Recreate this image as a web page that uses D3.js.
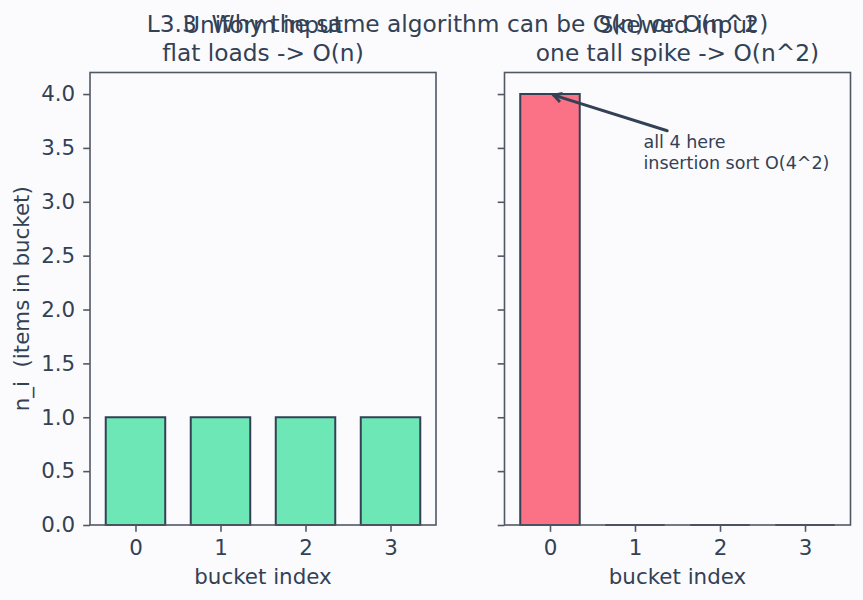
<!DOCTYPE html>
<html>
<head>
<meta charset="utf-8">
<script src="https://cdn.jsdelivr.net/npm/d3@7/dist/d3.min.js"></script>
<style>
  html, body { margin: 0; padding: 0; background: #fbfbfe; }
  svg { display: block; }
  text { font-family: "DejaVu Sans", sans-serif; fill: #334155; white-space: pre; }
</style>
</head>
<body>
<div id="chart"></div>
<script>
// ---- data ----
const buckets = [0, 1, 2, 3];
const uniformCounts = [1, 1, 1, 1];
const skewedCounts = [4, 0, 0, 0];
const yTicks = [0, 0.5, 1, 1.5, 2, 2.5, 3, 3.5, 4];
const suptitle = "L3.3  Why the same algorithm can be O(n) or O(n^2)";
const panelTitles = [["Uniform input", "flat loads -> O(n)"], ["Skewed input", "one tall spike -> O(n^2)"]];
const xLabel = "bucket index";
const yLabel = "n_i  (items in bucket)";
const annoLines = ["all 4 here", "insertion sort O(4^2)"];
const annoPoint = { x: 0, y: 4, tx: 1.1, ty: 3.5 };
const barWidth = 0.7;

const W = 863, H = 600;
const svg = d3.select("#chart").append("svg").attr("width", W).attr("height", H);
svg.append("rect").attr("width", W).attr("height", H).attr("fill", "#fbfbfe");

const axTop = 72.5, axBottom = 525;
const panels = [
  { left: 90, right: 436, data: uniformCounts, color: "#6ee7b7", labels: true },
  { left: 504.5, right: 850.5, data: skewedCounts, color: "#fb7185", labels: false }
];

const y = d3.scaleLinear().domain([0, 4.2]).range([axBottom, axTop]);
const spine = "#505866";
const tickLen = 6.8;
const labelSize = 21.4;

panels.forEach((p, i) => {
  const x = d3.scaleLinear().domain([-0.535, 3.535]).range([p.left, p.right]);
  const g = svg.append("g");
  // bars
  g.selectAll("path.bar").data(buckets).enter().append("path")
    .attr("class", "bar")
    .attr("d", d => {
      const x0 = x(d - barWidth / 2), x1 = x(d + barWidth / 2);
      const y0 = y(0), y1 = y(p.data[d]);
      return `M${x0},${y0}L${x0},${y1}L${x1},${y1}L${x1},${y0}Z`;
    })
    .attr("fill", p.color)
    .attr("stroke", "#334155")
    .attr("stroke-width", 2);

  // x axis
  const xa = g.append("g").attr("transform", `translate(0,${axBottom})`)
    .call(d3.axisBottom(x).tickValues(buckets).tickFormat(d3.format("d")).tickSize(tickLen).tickPadding(8));
  xa.select(".domain").remove();
  xa.selectAll("line").attr("stroke", spine).attr("stroke-width", 1.6);
  xa.selectAll("text").attr("font-size", labelSize).attr("fill", "#334155").attr("dy", "0.71em");

  // y axis
  const ya = g.append("g").attr("transform", `translate(${p.left},0)`)
    .call(d3.axisLeft(y).tickValues(yTicks).tickFormat(p.labels ? d3.format(".1f") : () => "").tickSize(tickLen).tickPadding(8));
  ya.select(".domain").remove();
  ya.selectAll("line").attr("stroke", spine).attr("stroke-width", 1.6);
  ya.selectAll("text").attr("font-size", labelSize).attr("fill", "#334155");

  // frame
  g.append("rect").attr("x", p.left).attr("y", axTop)
    .attr("width", p.right - p.left).attr("height", axBottom - axTop)
    .attr("fill", "none").attr("stroke", spine).attr("stroke-width", 1.6);

  // titles
  const cx = (p.left + p.right) / 2;
  panelTitles[i].forEach((t, k) => {
    g.append("text").attr("x", cx).attr("y", 33 + k * 28)
      .attr("text-anchor", "middle").attr("font-size", 23.3).text(t);
  });

  // x label
  g.append("text").attr("x", cx).attr("y", 584)
    .attr("text-anchor", "middle").attr("font-size", labelSize).text(xLabel);

  if (i === 0) {
    g.append("text")
      .attr("transform", `translate(29,${(axTop + axBottom) / 2}) rotate(-90)`)
      .attr("text-anchor", "middle").attr("font-size", labelSize).text(yLabel);
  }

  if (i === 1) {
    const tx = x(annoPoint.tx), ty = y(annoPoint.ty);
    const at = g.append("text").attr("x", tx).attr("y", ty).attr("font-size", 17.5);
    annoLines.forEach((l, k) => {
      at.append("tspan").attr("x", tx).attr("dy", k === 0 ? 0 : 21).text(l);
    });
    const bb = at.node().getBBox();
    const px = x(annoPoint.x), py = y(annoPoint.y);
    const cxb = bb.x + bb.width / 2, cyb = bb.y + bb.height / 2;
    const dx = px - cxb, dy = py - cyb;
    let t = Infinity;
    if (dx !== 0) t = Math.min(t, Math.abs((bb.width / 2) / dx));
    if (dy !== 0) t = Math.min(t, Math.abs((bb.height / 2) / dy));
    const len = Math.hypot(dx, dy);
    const ux = dx / len, uy = dy / len;
    const sx = cxb + dx * t + ux * 3.9, sy = cyb + dy * t + uy * 3.9;
    const ex = px - ux * 3.9, ey = py - uy * 3.9;
    g.append("line").attr("x1", sx).attr("y1", sy).attr("x2", ex).attr("y2", ey)
      .attr("stroke", "#334155").attr("stroke-width", 2.9).attr("stroke-linecap", "round");
    const hl = 8, hw = 4.5;
    const nx = -uy, ny = ux;
    const bx = ex - ux * hl, by = ey - uy * hl;
    g.append("path")
      .attr("d", `M${bx + nx * hw},${by + ny * hw}L${ex},${ey}L${bx - nx * hw},${by - ny * hw}`)
      .attr("fill", "none").attr("stroke", "#334155").attr("stroke-width", 2.9)
      .attr("stroke-linejoin", "miter").attr("stroke-linecap", "butt");
  }
});

// suptitle
svg.append("text").attr("x", 457.5).attr("y", 32)
  .attr("text-anchor", "middle").attr("font-size", 23.3).text(suptitle);
</script>
</body>
</html>
